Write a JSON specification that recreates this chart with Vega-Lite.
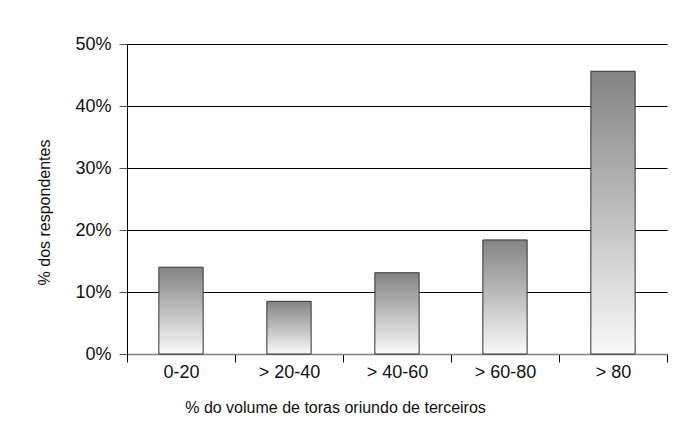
{
  "$schema": "https://vega.github.io/schema/vega-lite/v6.json",
  "width": 540,
  "height": 310,
  "autosize": {"type": "none"},
  "padding": {"left": 127, "top": 44, "right": 12, "bottom": 78},
  "background": "white",
  "data": {
    "values": [
      {"faixa": "0-20", "pct": 0.14},
      {"faixa": "> 20-40", "pct": 0.085},
      {"faixa": "> 40-60", "pct": 0.131},
      {"faixa": "> 60-80", "pct": 0.184},
      {"faixa": "> 80", "pct": 0.456}
    ]
  },
  "mark": {
    "type": "bar",
    "width": {"band": 0.41},
    "stroke": "#333333",
    "strokeWidth": 1,
    "color": {
      "gradient": "linear",
      "x1": 0, "y1": 0, "x2": 0, "y2": 1,
      "stops": [
        {"offset": 0, "color": "#838383"},
        {"offset": 1, "color": "#fafafa"}
      ]
    }
  },
  "encoding": {
    "x": {
      "field": "faixa",
      "type": "nominal",
      "sort": null,
      "scale": {"paddingInner": 0, "paddingOuter": 0},
      "axis": {
        "title": "% do volume de toras oriundo de terceiros",
        "labelAngle": 0,
        "tickBand": "extent",
        "tickSize": 8,
        "tickColor": "#000000",
        "domainColor": "#808080",
        "domainWidth": 1.5,
        "labelPadding": 1,
        "labelFont": "Liberation Sans",
        "labelFontSize": 18,
        "labelColor": "#111111",
        "titleFont": "Liberation Sans",
        "titleFontSize": 16,
        "titleFontWeight": "normal",
        "titleColor": "#111111",
        "titlePadding": 18,
        "titleX": 208
      }
    },
    "y": {
      "field": "pct",
      "type": "quantitative",
      "scale": {"domain": [0, 0.5], "nice": false},
      "axis": {
        "title": "% dos respondentes",
        "values": [0, 0.1, 0.2, 0.3, 0.4, 0.5],
        "format": ".0%",
        "grid": true,
        "gridColor": "#000000",
        "gridWidth": 1,
        "gridOpacity": 1,
        "tickSize": 8,
        "tickColor": "#555555",
        "domainColor": "#000000",
        "domainWidth": 1,
        "labelPadding": 8,
        "labelFont": "Liberation Sans",
        "labelFontSize": 18,
        "labelColor": "#111111",
        "titleFont": "Liberation Sans",
        "titleFontSize": 16,
        "titleFontWeight": "normal",
        "titleColor": "#111111",
        "titlePadding": 22,
        "titleY": 168
      }
    }
  },
  "config": {
    "view": {"stroke": null}
  }
}
